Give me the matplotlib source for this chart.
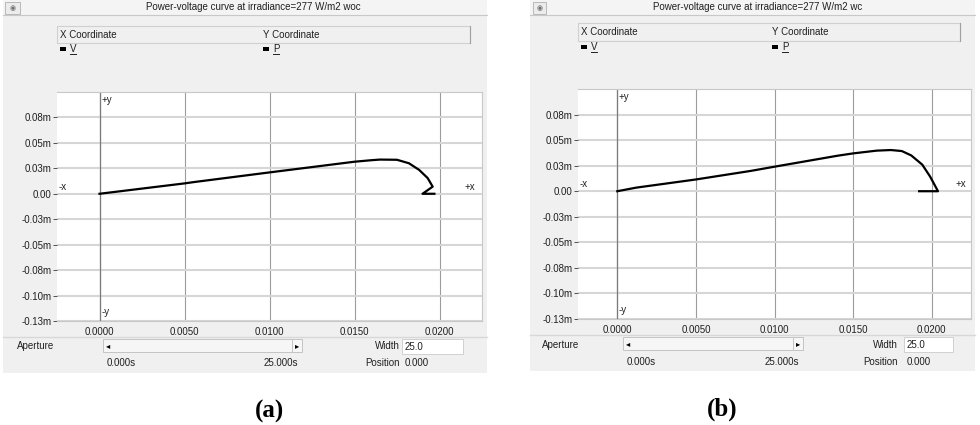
import matplotlib
matplotlib.use('Agg')
import matplotlib.pyplot as plt
from matplotlib.patches import Rectangle
from matplotlib.lines import Line2D

# curve data (x = V, y = P)
x_a = [0.0000, 0.0050, 0.0056, 0.0100, 0.0150, 0.0160, 0.0165, 0.0175, 0.0182, 0.0188, 0.0193, 0.0196, 0.0190, 0.0197]
y_a = [0.0000, 0.0102, 0.0116, 0.0210, 0.0315, 0.0330, 0.0336, 0.0334, 0.0300, 0.0235, 0.0155, 0.0070, 0.0000, 0.0000]

x_b = [0.0000, 0.0012, 0.0050, 0.0085, 0.0100, 0.0140, 0.0150, 0.0165, 0.0174, 0.0181, 0.0187, 0.0194, 0.0199, 0.0204, 0.0192]
y_b = [0.0000, 0.0035, 0.0115, 0.0199, 0.0240, 0.0347, 0.0370, 0.0397, 0.0403, 0.0393, 0.0350, 0.0260, 0.0143, 0.0000, 0.0000]

x_ticks = [0.0, 0.005, 0.010, 0.015, 0.020]
x_ticklabels = ['0.0000', '0.0050', '0.0100', '0.0150', '0.0200']
y_ticks = [0.075, 0.05, 0.025, 0.0, -0.025, -0.05, -0.075, -0.10, -0.125]
y_ticklabels = ['0.08m', '0.05m', '0.03m', '0.00', '-0.03m', '-0.05m', '-0.08m', '-0.10m', '-0.13m']

titles = ['Power-voltage curve at irradiance=277 W/m2 woc',
          'Power-voltage curve at irradiance=277 W/m2 wc']
captions = ['(a)', '(b)']

W, H = 980, 425
plt.rcParams['font.family'] = ['Liberation Sans', 'DejaVu Sans']
fig = plt.figure(figsize=[W / 100, H / 100], dpi=100)
fig.patch.set_facecolor('white')

GRAY = '#f0f0f0'
FS = 7


def fx(x):
    return x / W


def fy(y):
    return 1 - y / H


def box(x0, y0, x1, y1, fc=GRAY, ec='none', lw=0.8, z=-2):
    fig.add_artist(Rectangle((fx(x0), fy(y1)), (x1 - x0) / W, (y1 - y0) / H,
                             transform=fig.transFigure, fc=fc, ec=ec, lw=lw, zorder=z))


def txt(x, y, s, ha='left', **kw):
    kw.setdefault('fontsize', FS)
    kw.setdefault('color', '#202020')
    fig.text(fx(x), fy(y), s, ha=ha, va='center', zorder=3, **kw)


def hline(x0, x1, y0, y1=None, color='black', lw=0.8):
    if y1 is None:
        y1 = y0
    fig.add_artist(Line2D([fx(x0), fx(x1)], [fy(y0), fy(y1)], transform=fig.transFigure,
                          color=color, lw=lw, zorder=-1))


# pixel geometry of each window
panels = [
    dict(win=(3, 487, 373), icon=(5, 20), title_x=253, head=(57, 470, 26, 43), colx=(60, 263),
         plot=(57, 482, 92, 321), ap=(17, 346), scroll=(103, 302, 339, 352), width_r=400, tbox=(402, 463, 339, 354),
         row2=363, cap=(270, 411), x=x_a, y=y_a),
    dict(win=(530, 975, 371), icon=(533, 546), title_x=758, head=(578, 960, 23, 41), colx=(581, 772),
         plot=(578, 971, 89, 319), ap=(542, 345), scroll=(623, 803, 337, 350), width_r=898, tbox=(904, 953, 337, 352),
         row2=362, cap=(722, 409), x=x_b, y=y_b),
]

for i, p in enumerate(panels):
    wx0, wx1, wy1 = p['win']
    box(wx0, 0, wx1, wy1)
    # title bar
    box(wx0, 0, wx1, 15, fc='#f4f4f4')
    hline(wx0, wx1, 15, color='#c8c8c8', lw=0.8)
    ix0, ix1 = p['icon']
    box(ix0, 2, ix1, 14, fc='#ececec', ec='#b0b0b0', lw=0.6)
    txt((ix0 + ix1) / 2, 8, '\u25c9', ha='center', fontsize=5, color='#707070', family='DejaVu Sans')
    txt(p['title_x'], 7, titles[i], ha='center')

    # legend header
    hx0, hx1, hy0, hy1 = p['head']
    box(hx0, hy0, hx1, hy1, fc=GRAY, ec='#d0d0d0', lw=0.8)
    hline(hx1, hx1, hy0, hy1, color='#a0a0a0')
    c1, c2 = p['colx']
    txt(c1, (hy0 + hy1) / 2, 'X Coordinate')
    txt(c2, (hy0 + hy1) / 2, 'Y Coordinate')
    ly = hy1 + 6
    for cx, lab in [(c1, 'V'), (c2, 'P')]:
        box(cx, ly - 1.5, cx + 6, ly + 1.5, fc='black', z=-1)
        txt(cx + 10, ly, lab)
        hline(cx + 10, cx + 16, ly + 5, color='#202020', lw=0.7)

    # plot area
    px0, px1, py0, py1 = p['plot']
    ax = fig.add_axes([fx(px0), fy(py1), (px1 - px0) / W, (py1 - py0) / H])
    ax.set_zorder(1)
    ax.set_facecolor('white')
    ax.set_xlim(-0.0025, 0.0225)
    ax.set_ylim(-0.125, 0.1)
    ax.set_xticks(x_ticks)
    ax.set_xticklabels(x_ticklabels, fontsize=FS, color='#202020')
    ax.set_yticks(y_ticks)
    ax.set_yticklabels(y_ticklabels, fontsize=FS, color='#202020')
    ax.tick_params(axis='x', length=0, pad=4)
    ax.tick_params(axis='y', length=3, width=0.7, color='#505050', pad=1)
    ax.grid(axis='x', color='#9c9c9c', lw=0.8)
    ax.grid(axis='y', color='#d6d6d6', lw=1.5)
    ax.axvline(0, color='#7a7a7a', lw=0.9)
    for s in ax.spines.values():
        s.set_color('#c8c8c8')
        s.set_linewidth(0.8)
    ax.spines['left'].set_visible(False)
    ax.plot(p['x'], p['y'], color='black', lw=1.6, solid_joinstyle='round')
    ax.text(0.0001, 0.097, '+y', fontsize=FS, ha='left', va='top', color='#202020')
    ax.text(0.0001, -0.121, '-y', fontsize=FS, ha='left', va='bottom', color='#202020')
    ax.text(-0.0024, 0.002, '-x', fontsize=FS, ha='left', va='bottom', color='#202020')
    ax.text(0.0215, 0.002, '+x', fontsize=FS, ha='left', va='bottom', color='#202020')

    # bottom controls
    hline(wx0, wx1, py1 + 16, color='#d8d8d8', lw=1.0)
    txt(p['ap'][0], p['ap'][1], 'Aperture')
    sx0, sx1, sy0, sy1 = p['scroll']
    box(sx0, sy0, sx1, sy1, fc='#f6f6f6', ec='#c4c4c4', lw=0.7)
    box(sx1 - 10, sy0, sx1, sy1, fc='#f6f6f6', ec='#c4c4c4', lw=0.7)
    txt(sx0 + 5, (sy0 + sy1) / 2, '\u25c2', ha='center', fontsize=6, color='black', family='DejaVu Sans')
    txt(sx1 - 5, (sy0 + sy1) / 2, '\u25b8', ha='center', fontsize=6, color='black', family='DejaVu Sans')
    txt(p['width_r'], p['ap'][1], 'Width', ha='right')
    tx0, tx1, ty0, ty1 = p['tbox']
    box(tx0, ty0, tx1, ty1, fc='white', ec='#d0d0d0', lw=0.7)
    txt(tx0 + 3, (ty0 + ty1) / 2, '25.0')
    txt(sx0 + 4, p['row2'], '0.000s')
    txt(sx1 - 4, p['row2'], '25.000s', ha='right')
    txt(p['width_r'], p['row2'], 'Position', ha='right')
    txt(tx0 + 3, p['row2'], '0.000')

    # caption
    txt(p['cap'][0], p['cap'][1], captions[i], ha='center', fontsize=18, weight='bold',
        family='Liberation Serif', color='black')

fig.savefig('out.png', dpi=100, facecolor='white')
